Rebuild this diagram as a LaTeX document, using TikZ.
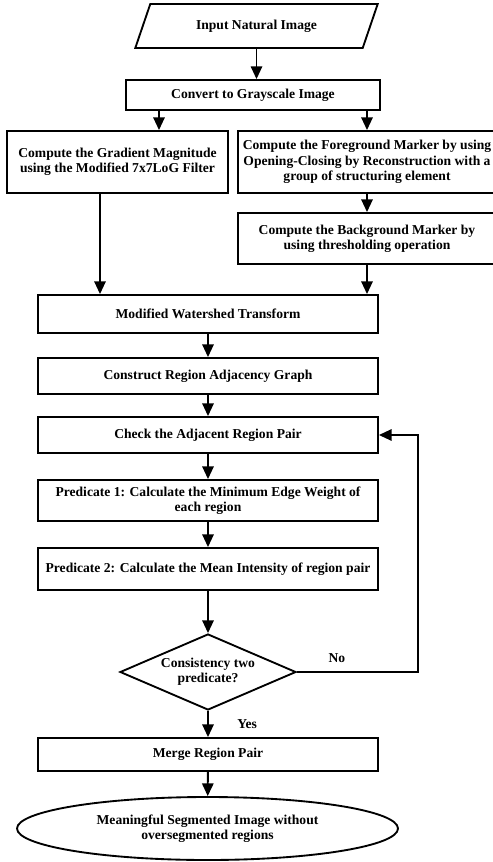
\documentclass[tikz,border=0pt]{standalone}
\usepackage{fontspec}
\setmainfont{Liberation Serif}
\usetikzlibrary{arrows.meta,positioning,shapes.geometric}
\definecolor{ink}{HTML}{000000}
\tikzset{
  stepbox/.style={draw=ink,line width=1.4pt,align=center,inner sep=2pt,
                  font=\bfseries\fontsize{10.2}{11.5}\selectfont},
  iobox/.style={stepbox,trapezium,trapezium left angle=63.4,
                trapezium right angle=116.6,trapezium stretches=true},
  decision/.style={stepbox,diamond,aspect=2.3,inner sep=0pt},
  endbox/.style={stepbox,ellipse,inner sep=0pt},
  flowarr/.style={-{Triangle[length=9.5pt,width=8.5pt]},line width=1.4pt,
                  draw=ink},
  flowlbl/.style={font=\bfseries\fontsize{10.2}{11.5}\selectfont}
}

\begin{document}
\begin{tikzpicture}[x=0.75pt,y=-0.75pt]
    \path[use as bounding box] (0,0) rectangle (492,862);

    \node[iobox,minimum width=182pt,minimum height=33pt] (input) at (256.5,26)
      {Input Natural Image};
    \node[stepbox,minimum width=190.5pt,minimum height=22.5pt] (gray) at (253,95)
      {Convert to Grayscale Image};
    \draw[flowarr] (input.south) -- (input.south |- gray.north);

    \node[stepbox,minimum width=165.75pt,minimum height=46.5pt] (grad) at (117.5,162)
      {Compute the Gradient Magnitude\\using the Modified 7x7LoG Filter};
    \node[stepbox,minimum width=193.5pt,minimum height=46.5pt] (fore) at (367,162)
      {Compute the Foreground Marker by using\\Opening-Closing by Reconstruction with a\\group of structuring element};
    \node[stepbox,minimum width=193.5pt,minimum height=38.25pt] (back) at (367,238.5)
      {Compute the Background Marker by\\using thresholding operation};
    \coordinate (gl) at (159,110);
    \coordinate (gd) at (100,193);
    \draw[flowarr] (gl) -- (gl |- grad.north);
    \draw[flowarr] (gray.south -| fore.north) -- (fore.north);
    \draw[flowarr] (fore) -- (back);

    \node[stepbox,minimum width=255pt,minimum height=28.5pt] (water) at (208,314)
      {Modified Watershed Transform};
    \draw[flowarr] (gd) -- (gd |- water.north);
    \draw[flowarr] (back.south) -- (back.south |- water.north);

    \node[stepbox,minimum width=255pt,minimum height=27pt] (rag) at (208,376)
      {Construct Region Adjacency Graph};
    \node[stepbox,minimum width=255pt,minimum height=27pt] (check) at (208,435)
      {Check the Adjacent Region Pair};
    \node[stepbox,minimum width=255pt,minimum height=30.75pt] (pred1) at (208,500.5)
      {Predicate 1: Calculate the Minimum Edge Weight of\\each region};
    \node[stepbox,minimum width=255pt,minimum height=31.5pt] (pred2) at (208,569)
      {Predicate 2: Calculate the Mean Intensity of region pair};
    \node[decision,minimum width=132pt,minimum height=57pt] (cons) at (208,672)
      {Consistency two\\predicate?};
    \node[stepbox,minimum width=255pt,minimum height=24.75pt] (merge) at (208,754.5)
      {Merge Region Pair};
    \node[endbox,minimum width=285.75pt,minimum height=47.25pt] (final) at (207.5,828.5)
      {Meaningful Segmented Image without\\oversegmented regions};

    \draw[flowarr] (water) -- (rag);
    \draw[flowarr] (rag) -- (check);
    \draw[flowarr] (check) -- (pred1);
    \draw[flowarr] (pred1) -- (pred2);
    \draw[flowarr] (pred2) -- (cons);
    \draw[flowarr] (cons) -- node[flowlbl,right=18pt] {Yes} (merge);
    \draw[flowarr] (merge) -- (final);

    % loop back when the predicates disagree
    \coordinate (fb) at (418,672);
    \draw[flowarr] (cons.east) -- node[flowlbl,above=3pt,pos=0.33] {No} (fb)
      |- (check.east);
  \end{tikzpicture}
\end{document}
